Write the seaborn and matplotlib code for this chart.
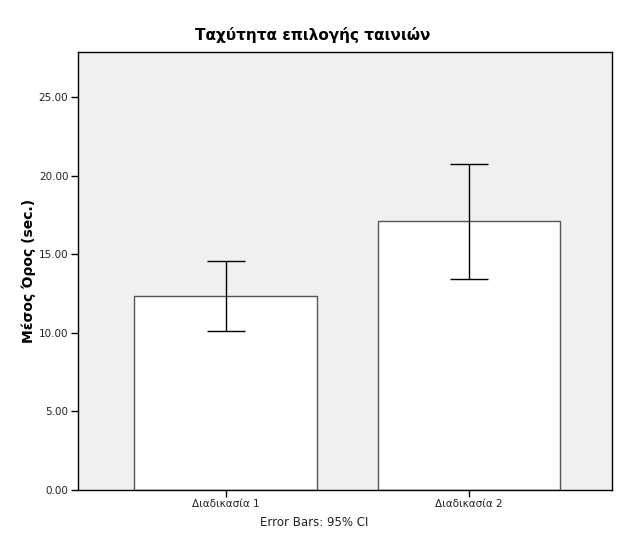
import matplotlib
matplotlib.use("Agg")
import matplotlib.pyplot as plt
import seaborn as sns
import pandas as pd
import numpy as np
from matplotlib.ticker import FormatStrFormatter

categories = ["Διαδικασία 1", "Διαδικασία 2"]
means = [12.34, 17.10]
ci_low = [10.09, 13.41]
ci_high = [14.55, 20.78]
yticks = [0, 5, 10, 15, 20, 25]

sns.set_theme(style="white")
plt.rcParams["font.family"] = ["DejaVu Sans"]
plt.rcParams["text.color"] = "black"
plt.rcParams["axes.labelcolor"] = "black"

df = pd.DataFrame({"cat": categories, "mean": means})

fig = plt.figure(figsize=(6.26, 5.41), dpi=100)
ax = fig.add_axes([78/626, 1-489.5/541, (612-78)/626, (489.5-52)/541])
ax.set_facecolor("#F0F0F0")

sns.barplot(data=df, x="cat", y="mean", ax=ax, errorbar=None, width=0.75,
            color="white", edgecolor="#555555", linewidth=1.0, saturation=1)

x = np.arange(len(categories))
m = np.array(means)
yerr = np.vstack([m - np.array(ci_low), np.array(ci_high) - m])
ax.errorbar(x, m, yerr=yerr, fmt="none", ecolor="black", elinewidth=1.0,
            capsize=13.5, capthick=1.0)

ax.set_xlim(-0.606, 1.587)
ax.set_ylim(0, 27.9)
ax.set_yticks(yticks)
ax.yaxis.set_major_formatter(FormatStrFormatter("%.2f"))
for s in ax.spines.values():
    s.set_color("black")
    s.set_linewidth(1.0)
ax.tick_params(axis="both", direction="out", length=5, width=1, color="black",
               labelsize=7.5, labelcolor="#222222", left=True, bottom=True, pad=2)
ax.set_xlabel("")
ax.set_ylabel("Μέσος Όρος (sec.)", fontsize=10, fontweight="bold", labelpad=2,
              color="black")
fig.text(313/626, 1-35/541, "Ταχύτητα επιλογής ταινιών", ha="center", va="center",
         fontsize=11, fontweight="bold", color="black")
fig.text(314/626, 1-522/541, "Error Bars: 95% CI", ha="center", va="center",
         fontsize=8.5, color="#222222")

fig.savefig("out.png", dpi=100, facecolor="white")
